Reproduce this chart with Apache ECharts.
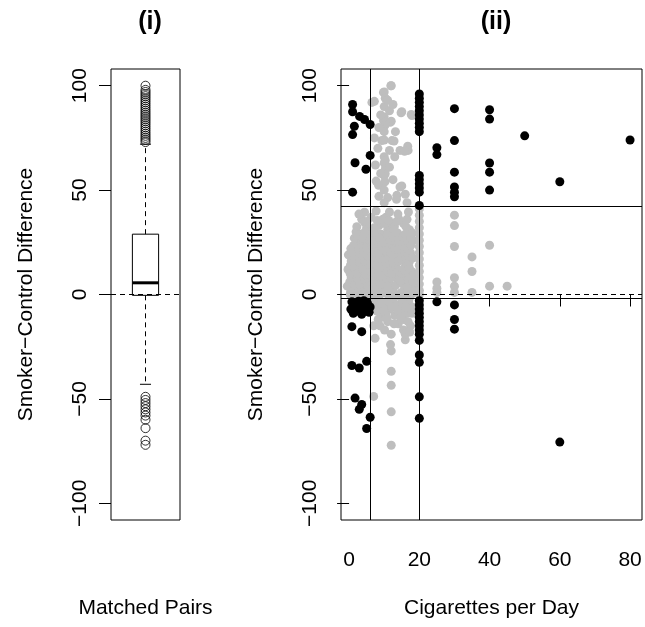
<!DOCTYPE html>
<html>
<head>
<meta charset="utf-8">
<script src="https://cdn.jsdelivr.net/npm/echarts@6/dist/echarts.min.js"></script>
<style>
	html, body { margin: 0; padding: 0; background: #fff; }
	#main { width: 645px; height: 627px; }
</style>
</head>
<body>
<div id="main"></div>
<script>
	var FONT = '"Liberation Sans", Arial, Helvetica, sans-serif';

	// panel (i): boxplot of matched-pair differences
	// [lower whisker, Q1, median, Q3, upper whisker]
	var boxStats = [-43, -0.4, 5.6, 28.9, 72];
	var upperOutliers = [100, 98, 97, 96, 95, 94, 93, 92, 91, 90, 89, 88, 87, 86, 85, 84, 83, 82, 81, 80, 79, 78, 77, 76, 75, 74, 73];
	var lowerOutliers = [-49, -50.5, -52, -53.5, -55, -56.5, -58, -60, -64, -70, -72];

	// panel (ii): cigarettes per day vs difference (gray = inside the cutoffs)
	var grayPoints = [
		[12, 100], [10, 97], [9.8, 96.8], [11.9, 100], [10.3, 94], [7.2, 92.5], [6.5, 92], [10, 90],
		[14.8, 87], [15, 87.5], [17.7, 86.2], [17.9, 85.7], [10, 85], [12, 83], [9.8, 83.3], [11.7, 82.5],
		[10.2, 81], [10, 78], [7.2, 75], [10, 74], [9.3, 73.7], [12.2, 73.7], [12.8, 73.5], [16.7, 71],
		[14.5, 69], [16.8, 69], [15.8, 68.6], [10, 66], [10.3, 64.2], [10, 63], [10.3, 60], [10, 57],
		[10.3, 57.8], [7.7, 54.3], [10.2, 54], [8.4, 52.3], [15, 52], [14.5, 51.5], [10, 50], [13.6, 47.5],
		[11, 46.4], [13.5, 45.6], [10, 44],
		[8.5, 47], [9, 58], [11.5, 61], [12.5, 55], [11.5, 69], [13, 66], [8.5, 80], [11.5, 88], [9, 86],
		[12.5, 91], [13.2, 78], [16, 48], [7.5, 62], [11, 93], [8.2, 70], [16.5, 44],
		[0.5, 22], [1, 18], [0.4, 14], [1.2, 11], [0.6, 8], [1.4, 5], [0.8, 2], [0.3, 0], [1.1, -1],
		[2, 30], [2.3, 25], [1.8, 20], [2.6, 16], [2, 13], [2.8, 9], [1.7, 6], [2.5, 3], [2.1, 0.5],
		[3.1, 29], [3.6, 36], [4.4, 39.4], [3.3, 22], [4, 18], [3.5, 14], [4.2, 10], [3.2, 7], [3.9, 4],
		[3.4, 1], [4.4, 34.6], [4.3, 26],
		[5, 32], [5.5, 24], [4.8, 20], [5.6, 15], [5, 12], [5.8, 8], [4.9, 5], [5.5, 2], [5.9, -1], [5.2, 28],
		[6.3, 37], [6.5, 30], [7, 27], [6.2, 21], [7.3, 16], [6.6, 12], [7.5, 8], [6.4, 4], [7.2, 1], [7.7, 40],
		[8.5, 33], [9, 29], [8.2, 24], [9.3, 20], [8.6, 15], [9.5, 11], [8.3, 7], [9.1, 3],
		[8.8, 0], [9.6, 36],
		[10.5, 37], [11, 31], [10.3, 27], [11.4, 23], [10.8, 18], [11.6, 14], [10.2, 10], [11.2, 6],
		[10.6, 2], [11.8, -1],
		[12.2, 34], [12.6, 30], [13.2, 26], [12.4, 21], [13.5, 17], [12.8, 12], [13.7, 8], [12.3, 4], [13.1, 0],
		[14.2, 36], [15.5, 34], [14.8, 28], [15.2, 22], [14.5, 18], [15.8, 13], [14.3, 9], [15.4, 5], [14.9, 1],
		[16.5, 36], [17.2, 31], [16.8, 25], [17.5, 20], [16.3, 15], [17.8, 11], [16.9, 6], [18, 3], [17.4, -1],
		[18.3, 26],
		[20, 41], [20, 38], [20, 35], [20, 32], [20, 29], [20, 26], [20, 23], [20, 20], [20, 17], [20, 14],
		[20, 11], [20, 8], [20, 5], [20, 2], [20, 0],
		[25, 6], [25, 3], [25, 1],
		[30, 38], [30, 33], [30, 23], [30, 8], [30, 4], [30, 1],
		[35, 18], [35, 11], [35, 1], [40, 23.6], [40, 4], [45, 4],
		[7, -15], [7, -48.8], [7.5, -5], [8, -8], [8.5, -3], [9, -11], [9.5, -6], [10, -4], [10.5, -9],
		[11, -13], [11.5, -7], [12, -19], [12, -27], [12, -36.8], [12, -43.5], [12, -56.2], [12, -72.2],
		[12.5, -3], [13, -10], [13.5, -5], [14, -14], [14.5, -8], [15, -4], [15.5, -12], [15.5, -17],
		[16, -21.7], [16, -19], [16.5, -9], [17, -3], [17.5, -15], [18, -6]
	];
	// extra points filling the dense core between the two horizontal cutoffs
	var grayCore = [
		[-0.3, 12], [-0.5, 4], [-0.2, 19],
		[0.5, 1.5], [1.8, -0.5], [2.9, 1.8], [3.7, -0.8], [4.6, 0.8], [6.8, -0.5], [8.1, 1.5], [9.9, 0.8],
		[11.2, -0.3], [12.6, 1.6], [14.1, -0.6], [15.7, 2], [16.4, -0.4], [17.9, 0.5], [18.4, 1.5],
		[0.2, 6], [1.6, 4.5], [2.4, 7.5], [3.1, 5], [4.4, 7], [5.3, 4], [6.9, 5.5], [7.8, 3.5], [8.9, 5],
		[9.7, 7.5], [10.9, 4], [11.9, 8], [13.3, 4.5], [14.6, 6.5], [15.9, 9], [16.6, 3.5], [17.3, 8], [18.2, 6.5],
		[0.3, 10], [1.5, 12.5], [2.2, 10], [3.8, 12], [4.7, 9.5], [6, 11], [7.1, 10.5], [8, 12], [9, 9],
		[9.8, 13], [11, 11], [12.1, 10], [13.4, 13], [14.2, 11.5], [15, 10], [16, 11.5], [17.1, 13], [18.5, 9.5],
		[0.6, 16], [1.4, 15], [2.7, 18], [3, 15.5], [4.5, 16], [5.2, 18.5], [6.1, 14.5], [7, 17.5], [7.9, 14],
		[8.9, 17.5], [9.7, 16], [10.5, 15], [11.3, 17], [12.5, 15.5], [13.3, 19], [14.1, 16], [15, 17],
		[16.2, 18], [17.1, 15.5], [18.1, 17.5],
		[0.8, 20], [1.3, 23.5], [2.8, 21.5], [3.9, 23], [4.2, 20], [5, 22.5], [6.6, 23.5], [7.4, 20.5],
		[8.4, 19.5], [9.2, 23], [10.4, 21], [11.8, 20], [12.2, 24.5], [13.1, 22], [14, 21.5], [14.8, 24],
		[15.9, 20.5], [16.5, 22], [17.6, 23.5],
		[1.5, 27], [2.5, 28.5], [3.9, 27], [4.5, 30], [5.8, 26], [6.5, 25.5], [7.8, 29], [8.7, 27], [9.8, 25],
		[10.9, 28.5], [11.7, 26], [12.6, 27.5], [13.8, 29.5], [14.2, 25.5], [15.3, 27.5], [16.1, 29],
		[17.6, 27], [18, 29.5],
		[2.2, 32.5], [5.1, 35], [7.2, 32], [8, 35.5], [10.1, 34], [11.3, 35.5],
		[12.9, 32.5], [13.6, 35], [16.2, 32.5],
		[2.8, 38.5], [11.5, 39.5], [13.9, 38.5], [16.9, 39.5],
		[6.8, -3], [7.6, -7], [8.3, -12], [9.2, -4.5], [9.9, -8], [10.8, -11.5], [11.3, -3.5], [12.2, -6],
		[12.8, -14], [13.8, -7.5], [14.7, -11], [15.1, -2.5], [16.3, -6], [16.8, -13], [17.3, -18], [17.9, -9],
		[8.8, -15], [10.1, -17], [7.4, -21], [11.8, -24]
	];
	var blackPoints = [
		[1, 91], [1, 87.5], [3, 85.3], [4.4, 83.8], [6, 81.4], [1.5, 80.6], [1, 76.6], [6, 66.6],
		[1.7, 63.1], [4.8, 60], [1, 49],
		[0.8, -3.5], [1.5, -5], [2.3, -4], [3, -6.5], [3.8, -4.5], [4.5, -7], [5.2, -4], [6, -6], [2, -8],
		[5.7, -8.5], [3.6, -9.5], [0.5, -7], [1.2, -9], [4.2, -3], [2.7, -3.2],
		[0.8, -15.4], [3.6, -17.8], [0.8, -34], [2.9, -35.2], [5, -32],
		[1.7, -49.6], [3.6, -52.7], [2.9, -55], [6, -58.8], [5, -64.2],
		[20, 96], [20, 94], [20, 92], [20, 90], [20, 88], [20, 86], [20, 84], [20, 82], [20, 80], [20, 78],
		[20, 57], [20, 55], [20, 53], [20, 51], [20, 49], [20, 42.6],
		[20, -3], [20, -5], [20, -7], [20, -9], [20, -11], [20, -13], [20, -15], [20, -17], [20, -19],
		[20, -22], [20, -29], [20, -32.5], [20, -49], [20, -59.3],
		[25, 70.3], [25, 67], [25, -3.5],
		[30, 89], [30, 73.7], [30, 58.6], [30, 51.5], [30, 49], [30, 46.8], [30, -5], [30, -12], [30, -16.6],
		[40, 88.5], [40, 84], [40, 63], [40, 58.6], [40, 50],
		[50, 76], [60, 54], [60, -70.7], [80, 74]
	];
	var cigCutoffs = [6, 20];
	var diffCutoffs = [42.5, -2];

	var yTicks = [-100, -50, 0, 50, 100];
	var xTicks = [0, 20, 40, 60, 80];

	function minus(v) {
		return String(v).replace('-', '\u2212');
	}

	function yAxisFor(gridIndex) {
		return {
			type: 'value',
			gridIndex: gridIndex,
			min: -108,
			max: 108,
			name: 'Smoker\u2212Control Difference',
			nameLocation: 'middle',
			nameRotate: 90,
			nameGap: 74,
			nameTextStyle: { fontSize: 21, color: '#000', fontFamily: FONT },
			axisLine: { show: false },
			axisTick: { show: true, length: 12, customValues: yTicks, lineStyle: { color: '#000' } },
			axisLabel: {
				rotate: 90, margin: 20, fontSize: 21, color: '#000', fontFamily: FONT,
				customValues: yTicks, formatter: minus
			},
			splitLine: { show: false }
		};
	}

	function renderBox(params, api) {
		var x = api.value(0);
		var lo = api.coord([x, api.value(1)]);
		var q1 = api.coord([x, api.value(2)]);
		var med = api.coord([x, api.value(3)]);
		var q3 = api.coord([x, api.value(4)]);
		var hi = api.coord([x, api.value(5)]);
		var half = api.size([0.19, 0])[0];
		var cap = api.size([0.08, 0])[0];
		var cx = lo[0];
		var dashed = { stroke: '#000', lineWidth: 1, lineDash: [5, 4] };
		var solid = { stroke: '#000', lineWidth: 1 };
		return {
			type: 'group',
			children: [
				{ type: 'line', shape: { x1: cx, y1: q3[1], x2: cx, y2: hi[1] }, style: dashed },
				{ type: 'line', shape: { x1: cx, y1: q1[1], x2: cx, y2: lo[1] }, style: dashed },
				{ type: 'line', shape: { x1: cx - cap, y1: hi[1], x2: cx + cap, y2: hi[1] }, style: solid },
				{ type: 'line', shape: { x1: cx - cap, y1: lo[1], x2: cx + cap, y2: lo[1] }, style: solid },
				{ type: 'rect', shape: { x: cx - half, y: q3[1], width: half * 2, height: q1[1] - q3[1] },
					style: { fill: 'transparent', stroke: '#000', lineWidth: 1 } },
				{ type: 'line', shape: { x1: cx - half, y1: med[1], x2: cx + half, y2: med[1] },
					style: { stroke: '#000', lineWidth: 3 } }
			]
		};
	}

	var outliers = upperOutliers.concat(lowerOutliers).map(function(v) { return [1, v]; });

	var chart = echarts.init(document.getElementById('main'), null, { renderer: 'canvas' });

	chart.setOption({
		animation: false,
		backgroundColor: '#fff',
		textStyle: { fontFamily: FONT },
		title: [
			{ text: '(i)', left: 145, top: 5, textAlign: 'center',
				textStyle: { fontSize: 25, fontWeight: 'bold', color: '#000', fontFamily: FONT } },
			{ text: '(ii)', left: 491, top: 5, textAlign: 'center',
				textStyle: { fontSize: 25, fontWeight: 'bold', color: '#000', fontFamily: FONT } }
		],
		grid: [
			{ left: 111, top: 69, width: 69, height: 451, show: true, borderColor: '#000', borderWidth: 1, backgroundColor: 'transparent' },
			{ left: 341, top: 69, width: 301, height: 451, show: true, borderColor: '#000', borderWidth: 1, backgroundColor: 'transparent' }
		],
		xAxis: [
			{
				type: 'value', gridIndex: 0, min: 0.5, max: 1.5,
				name: 'Matched Pairs', nameLocation: 'middle', nameGap: 78,
				nameTextStyle: { fontSize: 21, color: '#000', fontFamily: FONT },
				axisLine: { show: false }, axisTick: { show: false }, axisLabel: { show: false },
				splitLine: { show: false }
			},
			{
				type: 'value', gridIndex: 1, min: -2.3, max: 83.4,
				name: 'Cigarettes per Day', nameLocation: 'middle', nameGap: 78,
				nameTextStyle: { fontSize: 21, color: '#000', fontFamily: FONT },
				axisLine: { show: false },
				axisTick: { show: true, length: 12, customValues: xTicks, lineStyle: { color: '#000' } },
				axisLabel: { margin: 30, fontSize: 21, color: '#000', fontFamily: FONT, customValues: xTicks },
				splitLine: { show: false }
			}
		],
		yAxis: [yAxisFor(0), yAxisFor(1)],
		series: [
			{
				type: 'custom',
				xAxisIndex: 0, yAxisIndex: 0,
				renderItem: renderBox,
				data: [[1].concat(boxStats)],
				silent: true
			},
			{
				type: 'scatter',
				xAxisIndex: 0, yAxisIndex: 0,
				symbol: 'circle', symbolSize: 9,
				itemStyle: { color: 'rgba(0,0,0,0)', borderColor: '#000', borderWidth: 1 },
				data: outliers,
				silent: true,
				markLine: {
					silent: true, symbol: ['none', 'none'], label: { show: false },
					lineStyle: { color: '#000', width: 1, type: [5, 4] },
					data: [{ yAxis: 0 }]
				}
			},
			{
				type: 'scatter',
				xAxisIndex: 1, yAxisIndex: 1,
				symbol: 'circle', symbolSize: 9,
				itemStyle: { color: '#bebebe', opacity: 1 },
				data: grayPoints.concat(grayCore),
				silent: true
			},
			{
				type: 'scatter',
				xAxisIndex: 1, yAxisIndex: 1,
				symbol: 'circle', symbolSize: 9,
				itemStyle: { color: '#000', opacity: 1 },
				data: blackPoints,
				silent: true,
				markLine: {
					silent: true, symbol: ['none', 'none'], label: { show: false },
					lineStyle: { color: '#000', width: 1, type: 'solid' },
					data: [
						{ xAxis: cigCutoffs[0] }, { xAxis: cigCutoffs[1] },
						{ yAxis: diffCutoffs[0] }, { yAxis: diffCutoffs[1] },
						{ yAxis: 0, lineStyle: { type: [5, 4] } }
					]
				}
			}
		]
	});
</script>
</body>
</html>
